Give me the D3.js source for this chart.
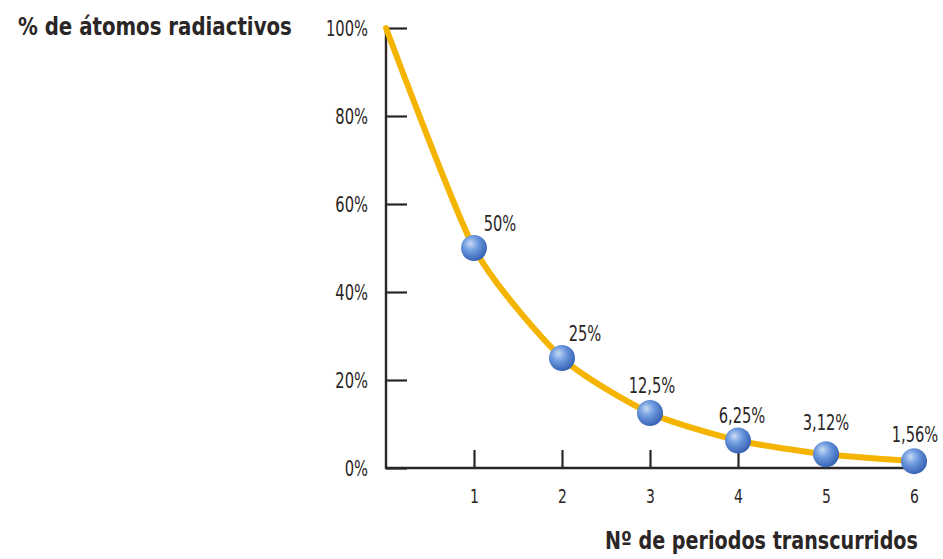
<!DOCTYPE html>
<html>
<head>
<meta charset="utf-8">
<script src="https://cdn.jsdelivr.net/npm/d3@7"></script>
<style>
  html, body { margin: 0; padding: 0; background: #fff; }
  svg { display: block; }
  text { font-family: "DejaVu Sans", sans-serif; fill: #2b2626; }
</style>
</head>
<body>
<svg id="chart" width="943" height="559"></svg>
<script>
// Radioactive decay: share of atoms left after each half-life period
const periods = [0, 1, 2, 3, 4, 5, 6];
const percents = [100, 50, 25, 12.5, 6.25, 3.12, 1.56];
const pointLabels = ["", "50%", "25%", "12,5%", "6,25%", "3,12%", "1,56%"];
const yTicks = [0, 20, 40, 60, 80, 100];
const xTicks = [1, 2, 3, 4, 5, 6];
const yTitle = "% de átomos radiactivos";
const xTitle = "Nº de periodos transcurridos";

const svg = d3.select("#chart");

const x = d3.scaleLinear().domain([0, 6]).range([386, 914]);
const y = d3.scaleLinear().domain([0, 100]).range([468, 28]);

// narrow the glyphs horizontally, keeping each text anchored at its own x/y
const NARROW = 0.7;
function condense(sel, f = NARROW) {
  sel.each(function () {
    const t = d3.select(this);
    const tx = +t.attr("x") || 0, ty = +t.attr("y") || 0;
    t.attr("x", 0).attr("y", 0)
     .attr("transform", `translate(${tx},${ty}) scale(${f},1)`);
  });
}
// squeeze a text so it spans exactly `width` pixels
function fitWidth(sel, width) {
  sel.each(function () {
    const natural = this.getComputedTextLength();
    condense(d3.select(this), width / natural);
  });
}

// marker shading
const defs = svg.append("defs");
const grad = defs.append("radialGradient")
  .attr("id", "ball").attr("cx", "40%").attr("cy", "38%").attr("r", "62%")
  .attr("fx", "36%").attr("fy", "32%");
grad.append("stop").attr("offset", "0%").attr("stop-color", "#c9dbf4");
grad.append("stop").attr("offset", "45%").attr("stop-color", "#6f9be0");
grad.append("stop").attr("offset", "100%").attr("stop-color", "#3763b4");

const axisColor = "#2b2626";

// y axis: ticks point inward
const yAxis = d3.axisRight(y).tickValues(yTicks).tickSize(21).tickFormat(d => d + "%");
const gy = svg.append("g").attr("transform", `translate(${x(0)},0)`).call(yAxis);
gy.select(".domain").remove();
gy.selectAll(".tick line").attr("stroke", axisColor).attr("stroke-width", 2.2);
gy.selectAll(".tick text")
  .attr("x", -18).attr("y", 0).attr("dy", "0.36em")
  .attr("text-anchor", "end")
  .style("font-size", "21px")
  .call(condense);

// x axis: ticks point upward
const xAxis = d3.axisTop(x).tickValues(xTicks).tickSize(18).tickFormat(d3.format("d"));
const gx = svg.append("g").attr("transform", `translate(0,${y(0)})`).call(xAxis);
gx.select(".domain").remove();
gx.selectAll(".tick line").attr("stroke", axisColor).attr("stroke-width", 2.2);
gx.selectAll(".tick text")
  .attr("x", 0).attr("y", 35).attr("dy", 0)
  .attr("text-anchor", "middle")
  .style("font-size", "20px")
  .call(condense);

// axis lines
svg.append("line")
  .attr("x1", x(0)).attr("x2", x(0)).attr("y1", y(100) - 1).attr("y2", y(0) + 1)
  .attr("stroke", axisColor).attr("stroke-width", 2.4);
svg.append("line")
  .attr("x1", x(0) - 1).attr("x2", x(6)).attr("y1", y(0)).attr("y2", y(0))
  .attr("stroke", axisColor).attr("stroke-width", 2.4);

// decay curve
const pts = periods.map((p, i) => ({ p, v: percents[i], label: pointLabels[i] }));
const line = d3.line().x(d => x(d.p)).y(d => y(d.v)).curve(d3.curveCardinal.tension(0.35));
svg.append("path")
  .datum(pts)
  .attr("d", line)
  .attr("fill", "none")
  .attr("stroke", "#f4b400")
  .attr("stroke-width", 6)
  .attr("stroke-linecap", "round")
  .attr("stroke-linejoin", "round");

// markers
const marked = pts.filter(d => d.p > 0);
svg.selectAll("circle.ball")
  .data(marked)
  .join("circle")
  .attr("class", "ball")
  .attr("cx", d => x(d.p))
  .attr("cy", d => y(d.v))
  .attr("r", 13)
  .attr("fill", "url(#ball)");

// value labels, nudged so they clear the curve
const labelShift = [[26, -17], [23, -17], [2, -20], [4, -18], [0, -24], [1, -19]];
svg.selectAll("text.val")
  .data(marked)
  .join("text")
  .attr("class", "val")
  .attr("x", (d, i) => x(d.p) + labelShift[i][0])
  .attr("y", (d, i) => y(d.v) + labelShift[i][1])
  .attr("text-anchor", "middle")
  .style("font-size", "21px")
  .text(d => d.label)
  .call(condense);

// titles
svg.append("text")
  .attr("x", 18).attr("y", 35)
  .style("font-size", "25px").style("font-weight", "bold")
  .text(yTitle)
  .call(fitWidth, 274);
svg.append("text")
  .attr("x", 605).attr("y", 549)
  .style("font-size", "25px").style("font-weight", "bold")
  .text(xTitle)
  .call(fitWidth, 313);
</script>
</body>
</html>
